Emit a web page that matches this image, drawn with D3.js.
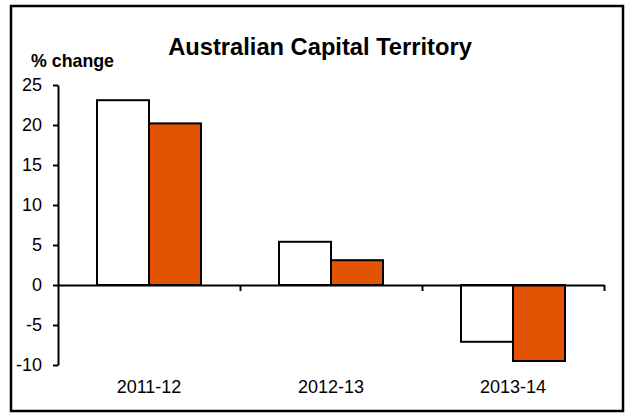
<!DOCTYPE html>
<html>
<head>
<meta charset="utf-8">
<script src="https://cdn.jsdelivr.net/npm/d3@7"></script>
<style>
  html, body { margin: 0; padding: 0; background: #fff; }
  svg { display: block; font-family: "Liberation Sans", Arial, sans-serif; }
</style>
</head>
<body>
<svg id="chart" width="626" height="414"></svg>
<script>
// ---- data ----
const categories = ["2011-12", "2012-13", "2013-14"];
const seriesNames = ["Series A", "Series B"];
const seriesA = [23.1, 5.4, -7.1];
const seriesB = [20.2, 3.1, -9.5];
const yTicks = [-10, -5, 0, 5, 10, 15, 20, 25];
const titleText = "Australian Capital Territory";
const yLabel = "% change";

const seriesValues = [seriesA, seriesB];
const seriesFill = ["#ffffff", "#e25304"];

const svg = d3.select("#chart");

// outer frame
svg.append("rect")
  .attr("x", 11).attr("y", 6).attr("width", 612).attr("height", 405)
  .attr("fill", "#fff").attr("stroke", "#000").attr("stroke-width", 2.5);

const plotLeft = 58, plotRight = 604, plotTop = 85, plotBottom = 365;

const y = d3.scaleLinear().domain([-10, 25]).range([plotBottom, plotTop]);
const x = d3.scaleBand().domain(categories).range([plotLeft, plotRight]).padding(0);
const xs = d3.scaleBand().domain(seriesNames).range([0, x.bandwidth()])
  .paddingInner(0).paddingOuter(0.75);

// title
svg.append("text")
  .attr("x", 320).attr("y", 55)
  .attr("text-anchor", "middle")
  .attr("font-size", 23.7).attr("font-weight", "bold")
  .text(titleText);

svg.append("text")
  .attr("x", 31).attr("y", 67)
  .attr("font-size", 17.8).attr("font-weight", "bold")
  .text(yLabel);

// bars
const rows = [];
categories.forEach((c, i) => {
  seriesNames.forEach((s, j) => rows.push({ c, s, v: seriesValues[j][i], j }));
});
svg.append("g").selectAll("rect").data(rows).join("rect")
  .attr("x", d => x(d.c) + xs(d.s))
  .attr("y", d => y(Math.max(0, d.v)))
  .attr("width", xs.bandwidth())
  .attr("height", d => Math.abs(y(d.v) - y(0)))
  .attr("fill", d => seriesFill[d.j])
  .attr("stroke", "#000").attr("stroke-width", 2);

// y axis
const yAxis = svg.append("g")
  .attr("transform", `translate(${plotLeft},0)`)
  .call(d3.axisLeft(y).tickValues(yTicks).tickSize(5).tickPadding(11).tickSizeOuter(0)
    .tickFormat(d => String(d)));
yAxis.attr("font-family", null).attr("font-size", null);
yAxis.select(".domain").attr("stroke-width", 2);
yAxis.selectAll(".tick line").attr("stroke-width", 2);
yAxis.selectAll(".tick text").attr("font-size", 18).attr("fill", "#000");

// x axis (zero line with ticks at category boundaries)
const xb = d3.scaleLinear().domain([0, categories.length]).range([plotLeft, plotRight]);
const xAxis = svg.append("g")
  .attr("transform", `translate(0,${y(0)})`)
  .call(d3.axisBottom(xb).tickValues(d3.range(1, categories.length + 1)).tickSize(6).tickSizeOuter(0).tickFormat(""));
xAxis.select(".domain").attr("stroke-width", 2);
xAxis.selectAll(".tick line").attr("stroke-width", 2);

// category labels
svg.append("g").selectAll("text").data(categories).join("text")
  .attr("x", d => x(d) + x.bandwidth() / 2)
  .attr("y", 393)
  .attr("text-anchor", "middle")
  .attr("font-size", 18)
  .text(d => d);
</script>
</body>
</html>
